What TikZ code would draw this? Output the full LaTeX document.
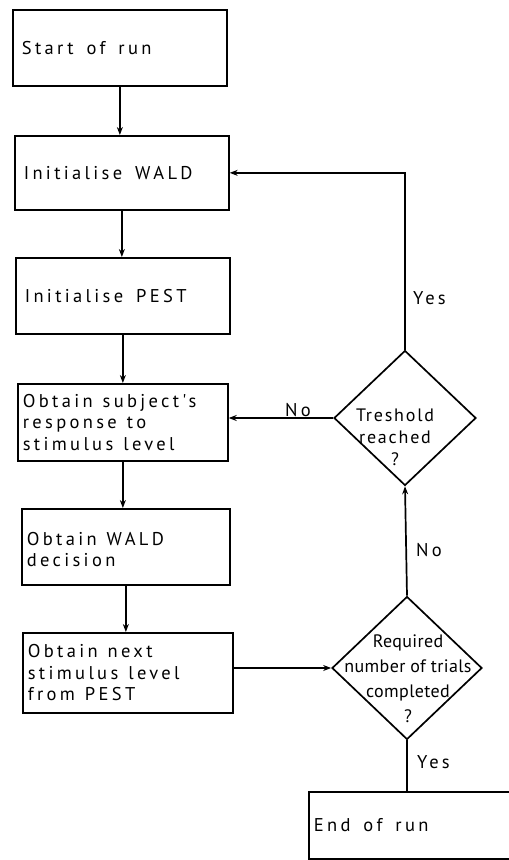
\documentclass[tikz,border=0pt]{standalone}
\usepackage{fontspec}
\setmainfont{PT Sans}
\newfontfamily\boxfam{PT Sans}[LetterSpace=18]
\newfontfamily\diafam{PT Sans}[LetterSpace=2]
\newfontfamily\thrfam{PT Sans}[LetterSpace=10]
\usetikzlibrary{arrows.meta,shapes.geometric}
\newcommand{\boxfont}{\boxfam\fontsize{18.5}{21.5}\selectfont}
\newcommand{\diafont}{\diafam\fontsize{18}{25}\selectfont}
\newcommand{\thrfont}{\thrfam\fontsize{18}{22}\selectfont}
\newcommand{\wsp}{\hspace{10pt}}
\newcommand{\wspl}{\hspace{13pt}}
\newcommand{\dsp}{\hspace{5pt}}
\begin{document}
\begin{tikzpicture}[x=1pt,y=-1pt,
  line/.style={line width=1.7pt},
  arr/.style={line, -{Stealth[length=8pt,width=6pt]}},
  box/.style={draw, line width=1.7pt, rectangle, anchor=north west, align=left,
              inner xsep=5pt, inner ysep=0pt, font=\boxfont},
  dia/.style={draw, line width=1.7pt, diamond, inner sep=0pt},
  dtext/.style={align=center, inner sep=0pt},
  lab/.style={font=\boxfont, inner sep=0pt}]
\useasboundingbox (0,0) rectangle (509,860);
\fill[white] (0,0) rectangle (509,860);

% boxes
\node[box, minimum width=208pt, minimum height=76pt, text width=196pt, inner xsep=9pt] (start) at (12,9) {Start\wspl of\wspl run};
\node[box, minimum width=208pt, minimum height=74pt, text width=196pt, inner xsep=9pt] (wald) at (14,135) {Initialise\wspl WALD};
\node[box, minimum width=208pt, minimum height=76pt, text width=196pt, inner xsep=9pt] (pest) at (15,257) {Initialise\wspl PEST};
\node[box, minimum width=210pt, minimum height=77pt, text width=200pt] (subj) at (17,383) {Obtain\wsp subject's\\response\wsp to\\stimulus\wsp level};
\node[box, minimum width=208pt, minimum height=76pt, text width=198pt, text depth=16pt] (dec) at (21,508) {Obtain\wsp WALD\\decision};
\node[box, minimum width=210pt, minimum height=80pt, text width=200pt] (next) at (22,632) {Obtain\wsp next\\stimulus\wsp level\\from\wsp PEST};
\node[box, minimum width=230pt, minimum height=67pt, text width=220pt, text depth=-6pt] (end) at (308,791) {End\wspl of\wspl run};

% diamonds
\node[dia, minimum width=142pt, minimum height=135pt] (thr) at (405,418) {};
\node[dtext, font=\thrfont] (thrt) at (395,437) {Treshold\\reached\\?};
\node[dia, minimum width=150pt, minimum height=143pt] (req) at (407,668) {};
\node[dtext, font=\diafont] (reqt) at (408,679) {Required\\number\dsp of\dsp trials\\completed\\?};

% connectors
\draw[arr] (start.south) -- (start.south |- wald.north);
\draw[arr] (wald.south) -- (wald.south |- pest.north);
\draw[arr] (pest.south) -- (pest.south |- subj.north);
\draw[arr] (subj.south) -- (subj.south |- dec.north);
\draw[arr] (dec.south) -- (dec.south |- next.north);
\draw[arr] (req.west -| next.east) -- (req.west);
\draw[arr] (req.north) -- (thr.south);
\draw[arr] (thr.west) -- (thr.west -| subj.east);
\draw[arr] (thr.north) -- (thr.north |- wald.east) -- (wald.east);
\draw[line] (req.south) -- (req.south |- end.north);

% labels
\node[lab, anchor=west] (yes1) at (413,298) {Yes};
\node[lab, anchor=base] (no1) at (298,416) {No};
\node[lab, anchor=west] (no2) at (416,550) {No};
\node[lab, anchor=west] (yes2) at (417,762) {Yes};
\end{tikzpicture}
\end{document}
